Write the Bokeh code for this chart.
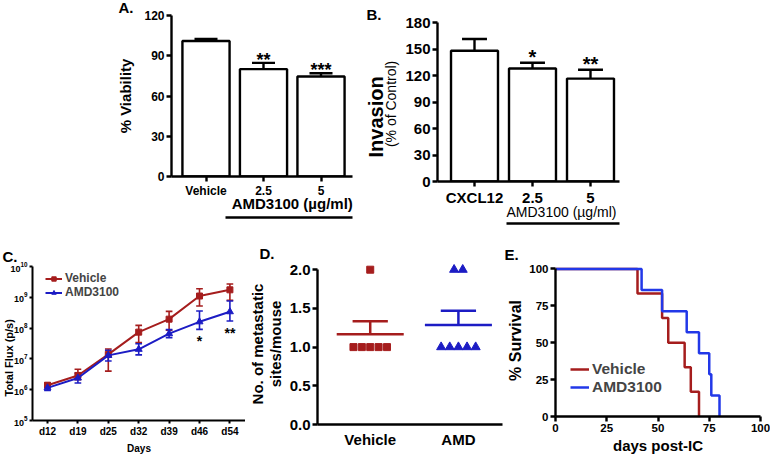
import math
from bokeh.plotting import figure
from bokeh.models import (Range1d, FixedTicker, ColumnDataSource, Legend, LegendItem, Spacer,
                          LinearAxis, Title, PrintfTickFormatter)
from bokeh.layouts import row, column
from bokeh.embed import file_html
from bokeh.resources import INLINE
from bokeh.core.properties import value

# ---------------- data ----------------
a_groups = ["Vehicle", "2.5", "5"]
a_viability = [101.0, 80.0, 74.5]
a_sem = [1.5, 4.7, 2.5]
a_stars = ["", "**", "***"]
a_yticks = [0, 30, 60, 90, 120]

b_groups = ["CXCL12", "2.5", "5"]
b_invasion = [148.0, 128.0, 116.5]
b_sem = [13.3, 6.4, 10.0]
b_stars = ["", "*", "**"]
b_yticks = [0, 30, 60, 90, 120, 150, 180]

dose_label = "AMD3100 (\u00b5g/ml)"

c_days = ["d12", "d19", "d25", "d32", "d39", "d46", "d54"]
c_vehicle = [1.4e6, 2.9e6, 1.4e7, 7.4e7, 1.95e8, 1.1e9, 1.75e9]
c_vehicle_lo = [1.2e6, 2.1e6, 4.0e6, 3.4e7, 8.5e7, 5.2e8, 8.0e8]
c_vehicle_hi = [1.65e6, 4.6e6, 2.1e7, 1.23e8, 3.5e8, 1.9e9, 2.7e9]
c_amd = [1.15e6, 2.4e6, 1.3e7, 2.05e7, 6.6e7, 1.6e8, 3.4e8]
c_amd_lo = [9.5e5, 1.65e6, 8.5e6, 1.35e7, 4.9e7, 9.1e7, 1.7e8]
c_amd_hi = [1.4e6, 3.5e6, 1.9e7, 3.1e7, 8.9e7, 3.6e8, 7.6e8]
c_stars = ["", "", "", "", "", "*", "**"]
c_yticks = [1e5, 1e6, 1e7, 1e8, 1e9, 1e10]

d_groups = ["Vehicle", "AMD"]
d_vehicle = [2, 1, 1, 1, 1, 1]
d_amd = [2, 2, 1, 1, 1, 1, 1]
d_mean = [1.167, 1.286]
d_sem = [0.167, 0.184]
d_yticks = [0.0, 0.5, 1.0, 1.5, 2.0]

e_vehicle_days = [0, 40, 52, 55, 63, 66, 70]
e_vehicle_surv = [100.0, 83.3, 66.7, 50.0, 33.3, 16.7, 0.0]
e_amd_days = [0, 42, 52, 64, 70, 75, 76, 80]
e_amd_surv = [100.0, 85.7, 71.4, 57.1, 42.9, 28.6, 14.3, 0.0]
e_ticks = [0, 25, 50, 75, 100]

# ---------------- helpers ----------------
FONT = "Liberation Sans"
RED = "#A51D1D"
BLUE = "#1C1CC4"
EBLUE = "#2238E8"
SX = 770 / 771
SY = 456 / 457


def X(v):
    return int(round(v * SX))


def Y(v):
    return int(round(v * SY))


def lin(p0, p1, d0, d1):
    return lambda px: d0 + (px - p0) * (d1 - d0) / (p1 - p0)


def make_fig(x0, x1, y0, y1, fx0, fx1, fy0, fy1, xr, yr, **kw):
    p = figure(width=X(x1) - X(x0), height=Y(y1) - Y(y0),
               min_border_left=X(fx0) - X(x0), min_border_right=X(x1) - X(fx1),
               min_border_top=Y(fy0) - Y(y0), min_border_bottom=Y(y1) - Y(fy1),
               x_range=xr, y_range=yr, output_backend="svg", toolbar_location=None,
               title=None, **kw)
    p.outline_line_color = None
    p.xgrid.visible = False
    p.ygrid.visible = False
    p.border_fill_color = "white"
    p.background_fill_color = "white"
    return p


def style_axis(ax, size, lw=2.4, tick=5):
    ax.axis_line_width = lw
    ax.axis_line_color = "black"
    ax.major_tick_line_width = lw
    ax.major_tick_line_color = "black"
    ax.major_tick_in = 0
    ax.major_tick_out = tick
    ax.minor_tick_line_color = None
    ax.major_label_text_font = FONT
    ax.major_label_text_font_style = "bold"
    ax.major_label_text_font_size = size
    ax.major_label_text_color = "black"
    ax.major_label_standoff = 2
    ax.axis_label_text_font = FONT
    ax.axis_label_text_font_style = "bold"
    ax.axis_label_text_color = "black"


def style_axes(p, xsize, ysize, lw=2.4, tick=5):
    style_axis(p.xaxis[0], xsize, lw, tick)
    style_axis(p.yaxis[0], ysize, lw, tick)


def letter(p, text, offset, valign, standoff=0):
    p.add_layout(Title(text=text, align="left", offset=offset, standoff=standoff,
                       vertical_align=valign, text_font=FONT, text_font_size="15px",
                       text_font_style="bold", text_color="black"), "above")


def side_title(p, text, size, offset, standoff, bold=True):
    p.add_layout(Title(text=text, align="left", offset=offset, standoff=standoff,
                       vertical_align="bottom", text_font=FONT, text_font_size=size,
                       text_font_style="bold" if bold else "normal",
                       text_color="black"), "left")


def dose_axes(p, center, size, bold, standoff, gap, x0, x1):
    lab = LinearAxis(ticker=FixedTicker(ticks=[center]),
                     major_label_overrides={center: dose_label})
    lab.axis_line_color = None
    lab.major_tick_line_color = None
    lab.minor_tick_line_color = None
    lab.major_tick_out = 0
    lab.major_tick_in = 0
    lab.major_label_standoff = standoff
    lab.major_label_text_font = FONT
    lab.major_label_text_font_size = size
    lab.major_label_text_font_style = "bold" if bold else "normal"
    lab.major_label_text_color = "black"
    lab.axis_label = " "
    lab.axis_label_text_font_size = "1px"
    lab.axis_label_standoff = gap
    p.add_layout(lab, "below")
    und = LinearAxis(ticker=FixedTicker(ticks=[]), bounds=(x0, x1))
    und.axis_line_width = 2.4
    und.axis_line_color = "black"
    und.major_tick_line_color = None
    und.minor_tick_line_color = None
    und.major_label_text_font_size = "1px"
    p.add_layout(und, "below")


def bars(p, pos, vals, errs, stars, width, cap, star_off, star_size):
    src = ColumnDataSource(dict(
        x=pos, top=vals, up=[v + e for v, e in zip(vals, errs)],
        cl=[x - cap for x in pos], cr=[x + cap for x in pos],
        sy=[v + e + star_off for v, e in zip(vals, errs)], star=stars))
    p.vbar(x="x", top="top", bottom=0, width=width, source=src, fill_color="white",
           line_color="black", line_width=2.4)
    p.segment(x0="x", y0="top", x1="x", y1="up", source=src, line_color="black", line_width=2.4)
    p.segment(x0="cl", y0="up", x1="cr", y1="up", source=src, line_color="black", line_width=2.4)
    p.text(x="x", y="sy", text="star", source=src, text_font=value(FONT),
           text_font_style="bold", text_font_size=value(star_size), text_align="center",
           text_baseline="middle", text_color="black")


# ---------------- Panel A ----------------
A_ax = lin(205.5, 263.0, 1.0, 2.0)
a_pos = [1, 2, 3]
pA = make_fig(100, 357, 0, 245, 171, 352, 15, 176,
              Range1d(A_ax(171), A_ax(352)), Range1d(0, 120))
style_axes(pA, "12px", "12px")
pA.xaxis.ticker = FixedTicker(ticks=a_pos)
pA.xaxis.major_label_overrides = {x: g for x, g in zip(a_pos, a_groups)}
pA.yaxis.ticker = FixedTicker(ticks=a_yticks)
pA.yaxis.axis_label = "% Viability"
pA.yaxis.axis_label_text_font_size = "15px"
pA.yaxis.axis_label_standoff = 7
bars(pA, a_pos, a_viability, a_sem, a_stars, 0.82, 0.2, 2.2, "18px")
letter(pA, "A.", X(118) - X(171), "top", standoff=-4)
dose_axes(pA, 2.5, "15px", True, -6, -1, A_ax(225), A_ax(358))

# ---------------- Panel B ----------------
B_ax = lin(475.0, 533.0, 1.0, 2.0)
b_pos = [1, 2, 3]
pB = make_fig(357, 640, 0, 245, 438, 620, 21.7, 181.7,
              Range1d(B_ax(438), B_ax(620)), Range1d(0, 180))
style_axes(pB, "15px", "15px")
pB.xaxis.ticker = FixedTicker(ticks=b_pos)
pB.xaxis.major_label_overrides = {x: g for x, g in zip(b_pos, b_groups)}
pB.yaxis.ticker = FixedTicker(ticks=b_yticks)
pB.yaxis.axis_label = "(% of  Control)"
pB.yaxis.axis_label_text_font_size = "14px"
pB.yaxis.axis_label_text_font_style = "normal"
pB.yaxis.axis_label_standoff = 3
side_title(pB, "Invasion", "20px", Y(181.7) - Y(157), -13)
bars(pB, b_pos, b_invasion, b_sem, b_stars, 0.81, 0.215, 6.0, "20px")
letter(pB, "B.", X(372) - X(438) - 6, "bottom")
dose_axes(pB, 2.5, "14px", False, -5, -3, B_ax(507), B_ax(625))

# ---------------- Panel C ----------------
C_ax = lin(47.0, 77.4, 0.0, 1.0)
c_pos = list(range(len(c_days)))
pC = make_fig(0, 245, 245, 457, 32, 245, 267, 421,
              Range1d(C_ax(32), C_ax(245)), Range1d(1e5, 1e10), y_axis_type="log")
style_axes(pC, "10px", "9px", lw=2.0, tick=3)
pC.xaxis.ticker = FixedTicker(ticks=c_pos)
pC.xaxis.major_label_overrides = {x: d for x, d in zip(c_pos, c_days)}
pC.yaxis.ticker = FixedTicker(ticks=c_yticks)
pC.xaxis.axis_label = "Days"
pC.xaxis.axis_label_text_font_size = "10px"
pC.xaxis.axis_label_standoff = 3
side_title(pC, "Total Flux (p/s)", "11px", Y(421) - Y(397), -15)
capC = 0.11
for lo, hi, col in ((c_vehicle_lo, c_vehicle_hi, RED), (c_amd_lo, c_amd_hi, BLUE)):
    src = ColumnDataSource(dict(x=c_pos, lo=lo, hi=hi,
                                cl=[x - capC for x in c_pos], cr=[x + capC for x in c_pos]))
    pC.segment(x0="x", y0="lo", x1="x", y1="hi", source=src, line_color=col, line_width=1.6)
    pC.segment(x0="cl", y0="lo", x1="cr", y1="lo", source=src, line_color=col, line_width=1.6)
    pC.segment(x0="cl", y0="hi", x1="cr", y1="hi", source=src, line_color=col, line_width=1.6)
legC_items = []
for vals, col, mk, sz, name in ((c_vehicle, RED, "square", 6, "Vehicle"),
                                (c_amd, BLUE, "triangle", 7, "AMD3100")):
    ln = pC.line(c_pos, vals, line_color=col, line_width=2.0)
    sc = pC.scatter(c_pos, vals, marker=mk, size=sz, fill_color=col, line_color=col)
    legC_items.append(LegendItem(label=name, renderers=[ln, sc]))
srcCs = ColumnDataSource(dict(x=c_pos, y=[v / 10 ** 0.39 for v in c_amd_lo], t=c_stars))
pC.text(x="x", y="y", text="t", source=srcCs, text_font=value(FONT), text_font_style="bold",
        text_font_size=value("14px"), text_align="center", text_baseline="middle",
        text_color="black")
hC = Y(421) - Y(267)
legC = Legend(items=legC_items, location=(X(45) - X(32), hC - 33),
              border_line_color=None, background_fill_alpha=0, padding=0, margin=0,
              spacing=-7, glyph_width=17, glyph_height=11, label_height=11, label_standoff=3,
              label_text_font=FONT, label_text_font_style="bold", label_text_font_size="12px")
pC.add_layout(legC)
letter(pC, "C.", X(2) - X(32), "top")

# ---------------- Panel D ----------------
D_ax = lin(365.0, 457.0, 1.0, 2.0)
D_top = 425.0 - 2.08 * 78.0
d_pos = [1, 2]
pD = make_fig(245, 505, 245, 457, 310, 503, D_top, 425,
              Range1d(D_ax(310), D_ax(503)), Range1d(0, 2.08))
style_axes(pD, "15px", "15px")
pD.yaxis.bounds = (0, 2)
pD.yaxis.formatter = PrintfTickFormatter(format="%.1f")
pD.xaxis.ticker = FixedTicker(ticks=d_pos)
pD.xaxis.major_label_overrides = {x: g for x, g in zip(d_pos, d_groups)}
pD.xaxis.major_tick_out = 0
pD.xaxis.major_label_standoff = 6
pD.yaxis.ticker = FixedTicker(ticks=d_yticks)
pD.yaxis.axis_label = "No. of metastatic\nsites/mouse"
pD.yaxis.axis_label_text_font_size = "15px"
pD.yaxis.axis_label_text_line_height = 1.05
pD.yaxis.axis_label_standoff = 3


def swarm(vals, center, step):
    counts = {v: vals.count(v) for v in set(vals)}
    seen = {}
    xs = []
    for v in vals:
        k = seen.get(v, 0)
        seen[v] = k + 1
        xs.append(center + (k - (counts[v] - 1) / 2) * step)
    return xs


pD.scatter(swarm(d_vehicle, d_pos[0], 0.095), d_vehicle, marker="square", size=7,
           fill_color=RED, line_color=RED)
pD.scatter(swarm(d_amd, d_pos[1], 0.098), d_amd, marker="triangle", size=9,
           fill_color=BLUE, line_color=BLUE)
for xc, m, s, col in zip(d_pos, d_mean, d_sem, (RED, BLUE)):
    pD.segment(x0=[xc - 0.38], y0=[m], x1=[xc + 0.38], y1=[m], line_color=col, line_width=2.5)
    pD.segment(x0=[xc], y0=[m], x1=[xc], y1=[m + s], line_color=col, line_width=2.5)
    pD.segment(x0=[xc - 0.2], y0=[m + s], x1=[xc + 0.2], y1=[m + s], line_color=col,
               line_width=2.5)
letter(pD, "D.", X(256) - X(310) - 4, "top")

# ---------------- Panel E ----------------
E_top = 417.0 - 103 * 1.48
pE = make_fig(505, 771, 245, 457, 553, 761, E_top, 417, Range1d(0, 100), Range1d(0, 103))
style_axes(pE, "11.5px", "11.5px")
pE.yaxis.bounds = (0, 100)
pE.xaxis.ticker = FixedTicker(ticks=e_ticks)
pE.yaxis.ticker = FixedTicker(ticks=e_ticks)
pE.xaxis.axis_label = "days post-IC"
pE.xaxis.axis_label_text_font_size = "15px"
pE.xaxis.axis_label_standoff = 2
pE.yaxis.axis_label = "% Survival"
pE.yaxis.axis_label_text_font_size = "16px"
pE.yaxis.axis_label_standoff = 2
lv = pE.step(e_vehicle_days, e_vehicle_surv, mode="after", line_color=RED, line_width=2.5)
la = pE.step(e_amd_days, e_amd_surv, mode="after", line_color=EBLUE, line_width=2.5)
mv = pE.scatter([], [], marker="square", size=7, fill_color=RED, line_color=RED)
ma = pE.scatter([], [], marker="inverted_triangle", size=8, fill_color=EBLUE, line_color=EBLUE)
legE = Legend(items=[LegendItem(label="Vehicle", renderers=[lv, mv]),
                     LegendItem(label="AMD3100", renderers=[la, ma])],
              location=(X(568) - X(553), Y(417) - Y(397)),
              border_line_color=None, background_fill_alpha=0, padding=0, margin=0,
              spacing=0, glyph_width=19, glyph_height=16, label_height=16, label_standoff=3,
              label_text_font=FONT, label_text_font_style="bold", label_text_font_size="15.5px")
pE.add_layout(legE)
letter(pE, "E.", X(506) - X(553) - 4, "top")

# ---------------- layout ----------------
top = row(Spacer(width=X(100), height=Y(245)), column(pA), column(pB))
bottom = row(column(pC), column(pD), column(pE))
layout = column(top, bottom)
open("out.html", "w").write(file_html(layout, INLINE))
